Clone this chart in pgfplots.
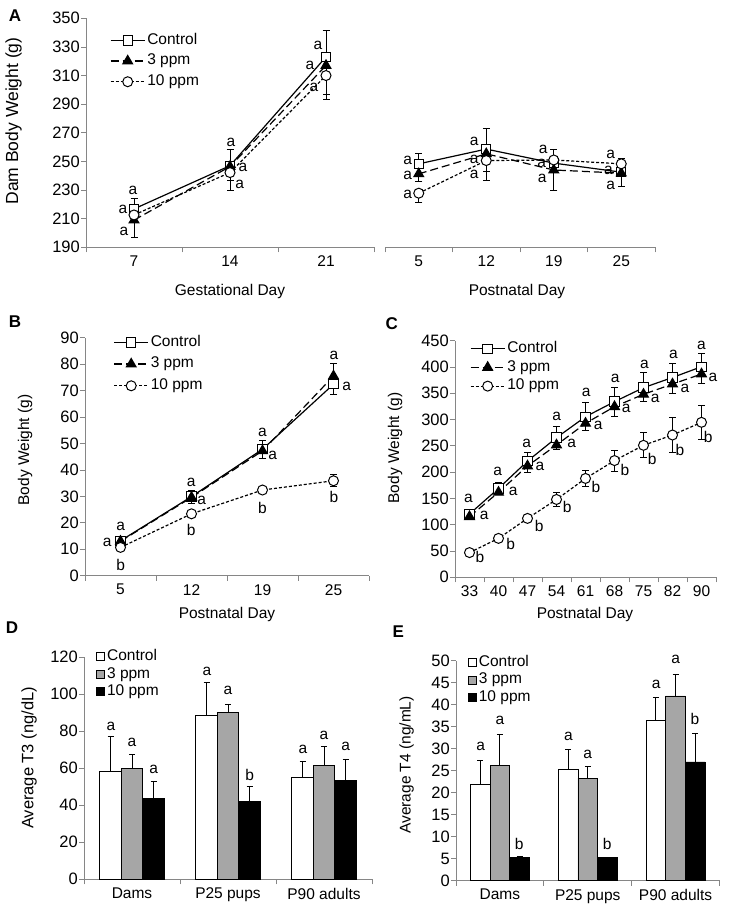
\documentclass[border=0pt]{standalone}
\usepackage{fontspec}
\setmainfont{Liberation Sans}
\usepackage{pgfplots}
\pgfplotsset{compat=1.18}
\definecolor{bargray}{RGB}{166,166,166}
\definecolor{axgray}{RGB}{134,134,134}
\newcommand{\tf}{\fontsize{15.5}{18}\selectfont}
\newcommand{\yf}{\fontsize{16.5}{18}\selectfont}
\newcommand{\lt}[3]{\node[font=\tf, inner sep=0pt] at (axis cs:#1,#2) {#3};}
\pgfplotsset{
  base/.style={
    scale only axis, clip=false,
    axis lines*=left,
    axis line style={draw=axgray, line width=0.8pt},
    tick align=outside,
    major tick length=5pt,
    tick style={draw=axgray, line width=0.8pt},
    tick label style={font=\tf, black},
    yticklabel style={font=\yf, inner sep=1pt},
    /pgf/number format/assume math mode=true,
    x tick label as interval,
  },
  ctrl/.style={black, line width=1.2pt, mark=square*, mark size=4.7pt, mark options={fill=white, solid, line width=1pt}},
  three/.style={black, line width=1.2pt, dash pattern=on 8pt off 4pt, mark=triangle*, mark size=5.5pt, mark options={fill=black, solid}},
  ten/.style={black, line width=1.2pt, dash pattern=on 3pt off 2pt, mark=*, mark size=5pt, mark options={fill=white, solid, line width=1pt}},
  eb/.style={error bars/y dir=both, error bars/y explicit, error bars/error bar style={solid, line width=1pt, black}, error bars/error mark options={rotate=90, mark size=3.5pt, line width=1pt, solid, black}},
  ebp/.style={error bars/y dir=plus, error bars/y explicit, error bars/error bar style={solid, line width=1pt, black}, error bars/error mark options={rotate=90, mark size=3pt, line width=1pt, solid, black}},
  linelegend/.style={legend image code/.code={\draw[mark repeat=2, mark phase=2, ##1] plot coordinates {(0pt,0pt) (17pt,0pt) (34pt,0pt)};},
    legend cell align=left,
    legend style={draw=none, fill=none, font=\tf, anchor=north west, inner sep=0pt, nodes={inner sep=2pt, text height=11pt, text depth=3.5pt}}},
  barlegend/.style={legend image code/.code={\draw[##1, draw=black, line width=0.8pt] (0pt,-4pt) rectangle (8pt,4pt);},
    legend cell align=left,
    legend style={draw=none, fill=none, font=\tf, anchor=north west, inner sep=0pt, row sep=-1pt, nodes={inner sep=2pt, text height=11pt, text depth=3.5pt}}},
  bars/.style={ybar=0pt, ebp},
}
\begin{document}
\begin{tikzpicture}[x=1pt,y=1pt]
\path[use as bounding box] (0,0) rectangle (729,917);

% ---------------- Panel A (gestational) ----------------
\begin{axis}[base, at={(86pt,669.7pt)}, anchor=south west, width=288pt, height=229pt,
  xmin=0.5, xmax=3.5, ymin=190, ymax=350, ytick={190,210,...,350},
  xtick={0.5,1.5,2.5,3.5}, xticklabels={7,14,21},
  linelegend, legend style={at={(axis description cs:0.083,0.945)}, row sep=2.2pt}]
\addplot[ctrl, eb] coordinates {(1,216.8) += (0,7.5) (2,247) += (0,11) (3,323) += (0,18.6)};
\addplot[three, eb] coordinates {(1,209) -= (0,12) (2,246.4) -= (0,9.4) (3,317) -= (0,20.4)};
\addplot[ten, eb] coordinates {(1,212.6) -= (0,2) (2,242.2) -= (0,12.2) (3,310) -= (0,17)};
\legend{Control,3 ppm,10 ppm}
\lt{0.99}{229.4}{a}\lt{0.885}{216.8}{a}\lt{0.896}{201.4}{a}
\lt{2.01}{263}{a}\lt{2.135}{245.6}{a}\lt{2.10}{234}{a}
\lt{2.917}{330.8}{a}\lt{2.833}{316.8}{a}\lt{2.875}{302}{a}
\end{axis}

% ---------------- Panel A (postnatal) ----------------
\begin{axis}[base, axis y line=none, at={(385pt,669.7pt)}, anchor=south west, width=270pt, height=229pt,
  xmin=0.5, xmax=4.5, ymin=190, ymax=350, ytick=\empty,
  xtick={0.5,1.5,2.5,3.5,4.5}, xticklabels={5,12,19,25}]
\addplot[ctrl, eb] coordinates {(1,248.3) += (0,7) (2,258.6) += (0,14.4) (3,248.8) += (0,3) (4,242.5) += (0,3)};
\addplot[three, eb] coordinates {(1,241.3) -= (0,5.3) (2,255.3) -= (0,18.3) (3,244) -= (0,14.4) (4,241.8) -= (0,9.4)};
\addplot[ten, eb] coordinates {(1,227.8) -= (0,6.8) (2,250.6) -= (0,7.6) (3,251) += (0,7.6) (4,248.3) += (0,3.5)};
\lt{0.836}{250.8}{a}\lt{0.836}{240}{a}\lt{0.836}{227}{a}
\lt{1.823}{264}{a}\lt{1.823}{251.5}{a}\lt{1.823}{241}{a}
\lt{2.845}{258.5}{a}\lt{2.82}{248.3}{a}\lt{2.83}{238}{a}
\lt{3.843}{255}{a}\lt{3.81}{244}{a}\lt{3.843}{233.2}{a}
\end{axis}

% ---------------- Panel B ----------------
\begin{axis}[base, at={(85pt,341.3pt)}, anchor=south west, width=284pt, height=238pt,
  xmin=0.5, xmax=4.5, ymin=0, ymax=90, ytick={0,10,...,90},
  xtick={0.5,1.5,2.5,3.5,4.5}, xticklabels={5,12,19,25},
  linelegend, legend style={at={(axis description cs:0.1,1.02)}, row sep=3.2pt}]
\addplot[ctrl, eb] coordinates {(1,13.2) += (0,0.5) (2,29.9) += (0,2.5) (3,47.8) += (0,3.2) (4,72.4) -= (0,3.7)};
\addplot[three, eb] coordinates {(1,13) -= (0,0.5) (2,29.6) -= (0,2.2) (3,47.2) -= (0,2.8) (4,75.5) += (0,4.8)};
\addplot[ten, eb] coordinates {(1,10.7) +- (0,0.5) (2,23.4) +- (0,0.8) (3,32.4) +- (0,1) (4,35.9) +- (0,2.3)};
\legend{Control,3 ppm,10 ppm}
\lt{1.003}{18.8}{a}\lt{0.814}{12.6}{a}\lt{1.003}{4.0}{b}
\lt{1.997}{35.3}{a}\lt{2.143}{28.4}{a}\lt{1.997}{17.3}{b}
\lt{3.0}{54.1}{a}\lt{3.143}{45.6}{a}\lt{3.0}{25.5}{b}
\lt{4.007}{83.4}{a}\lt{4.186}{71.7}{a}\lt{4.007}{29.6}{b}
\end{axis}

% ---------------- Panel C ----------------
\begin{axis}[base, at={(455pt,339.7pt)}, anchor=south west, width=261pt, height=236.6pt,
  xmin=0.5, xmax=9.5, ymin=0, ymax=450, ytick={0,50,...,450},
  xtick={0.5,1.5,...,9.5}, xticklabels={33,40,47,54,61,68,75,82,90},
  linelegend, legend style={at={(axis description cs:0.057,1.006)}, row sep=0.2pt}]
\addplot[ctrl, eb] coordinates {(1,120.4) += (0,5) (2,169) += (0,11) (3,221) += (0,16.6) (4,265.5) += (0,22.2) (5,305.4) += (0,26.6) (6,334) += (0,26.6) (7,360.6) += (0,28.4) (8,380) += (0,27.5) (9,400.5) += (0,25.3)};
\addplot[three, eb] coordinates {(1,115.3) -= (0,3) (2,161.6) -= (0,4) (3,211.7) -= (0,12.7) (4,251.6) -= (0,8.6) (5,292.8) -= (0,12.8) (6,324.5) -= (0,17.8) (7,348) -= (0,14) (8,367.5) -= (0,17.5) (9,386.6) -= (0,17.6)};
\addplot[ten, eb] coordinates {(1,47) +- (0,3) (2,74) +- (0,4) (3,112) +- (0,5) (4,148) +- (0,13) (5,188) +- (0,15) (6,222) +- (0,20) (7,251) +- (0,24) (8,270.6) +- (0,33) (9,294.7) +- (0,32)};
\legend{Control,3 ppm,10 ppm}
\lt{0.96}{150}{a}\lt{1.51}{117.2}{a}\lt{1.36}{38}{b}
\lt{1.97}{202}{a}\lt{2.51}{163}{a}\lt{2.42}{62.7}{b}
\lt{2.97}{254.8}{a}\lt{3.43}{210.4}{a}\lt{3.40}{98.2}{b}
\lt{4.01}{306.7}{a}\lt{4.52}{254.8}{a}\lt{4.37}{134.3}{b}
\lt{5.02}{351}{a}\lt{5.44}{289.6}{a}\lt{5.36}{171}{b}
\lt{6.02}{378}{a}\lt{6.40}{321}{a}\lt{6.36}{204}{b}
\lt{7.03}{405.6}{a}\lt{7.40}{340}{a}\lt{7.30}{226}{b}
\lt{8.03}{424.6}{a}\lt{8.43}{359}{a}\lt{8.26}{243}{b}
\lt{9.0}{441.7}{a}\lt{9.39}{380}{a}\lt{9.23}{267}{b}
\end{axis}

% ---------------- Panel D ----------------
\begin{axis}[base, bars, bar width=21.5pt, at={(84pt,37.7pt)}, anchor=south west, width=288pt, height=222.3pt,
  xmin=0.5, xmax=3.5, ymin=0, ymax=120, ytick={0,20,...,120},
  xtick={0.5,1.5,2.5,3.5}, xticklabels={Dams,P25 pups,P90 adults},
  barlegend, legend style={at={(axis description cs:0.042,1.043)}}]
\addplot[fill=white, draw=black, line width=0.8pt] coordinates {(1,58.1) += (0,19) (2,88.7) += (0,17.5) (3,55) += (0,8.5)};
\addplot[fill=bargray, draw=black, line width=0.8pt] coordinates {(1,60) += (0,7.1) (2,90.1) += (0,4.5) (3,61.4) += (0,10.2)};
\addplot[fill=black, draw=black, line width=0.8pt] coordinates {(1,43.7) += (0,9) (2,41.9) += (0,8.1) (3,53.3) += (0,11.1)};
\legend{Control,3 ppm,10 ppm}
\lt{0.78}{82.8}{a}\lt{1.0}{74}{a}\lt{1.225}{59.4}{a}
\lt{1.78}{112}{a}\lt{2.0}{101.7}{a}\lt{2.225}{56.3}{b}
\lt{2.78}{70.3}{a}\lt{3.0}{77.9}{a}\lt{3.225}{71.6}{a}
\end{axis}

% ---------------- Panel E ----------------
\begin{axis}[base, bars, bar width=19.7pt, at={(456pt,36.3pt)}, anchor=south west, width=263.5pt, height=220pt,
  xmin=0.5, xmax=3.5, ymin=0, ymax=50, ytick={0,5,...,50},
  xtick={0.5,1.5,2.5,3.5}, xticklabels={Dams,P25 pups,P90 adults},
  barlegend, legend style={at={(axis description cs:0.045,1.035)}}]
\addplot[fill=white, draw=black, line width=0.8pt] coordinates {(1,21.9) += (0,5.5) (2,25.2) += (0,4.6) (3,36.5) += (0,5.1)};
\addplot[fill=bargray, draw=black, line width=0.8pt] coordinates {(1,26.1) += (0,7.2) (2,23.3) += (0,2.6) (3,42) += (0,4.9)};
\addplot[fill=black, draw=black, line width=0.8pt] coordinates {(1,5.2) += (0,0.4) (2,5.2) += (0,0) (3,27) += (0,6.5)};
\legend{Control,3 ppm,10 ppm}
\lt{0.78}{30.5}{a}\lt{1.0}{36.5}{a}\lt{1.22}{8.3}{b}
\lt{1.78}{32.7}{a}\lt{2.0}{28.6}{a}\lt{2.22}{8.3}{b}
\lt{2.78}{44.6}{a}\lt{3.0}{50.2}{a}\lt{3.22}{36.7}{b}
\end{axis}

% ---------------- Titles, axis labels ----------------
\node[font=\fontsize{17}{20}\selectfont\bfseries] at (15,901.7) {A};
\node[font=\fontsize{17}{20}\selectfont\bfseries] at (15,595.3) {B};
\node[font=\fontsize{17}{20}\selectfont\bfseries] at (391.7,593.7) {C};
\node[font=\fontsize{17}{20}\selectfont\bfseries] at (12,289) {D};
\node[font=\fontsize{17}{20}\selectfont\bfseries] at (398.3,285.3) {E};
\node[font=\fontsize{17.5}{20}\selectfont, rotate=90] at (13.5,796) {Dam Body Weight (g)};
\node[font=\tf] at (230,625.3) {Gestational Day};
\node[font=\tf] at (517,625.3) {Postnatal Day};
\node[font=\tf, rotate=90] at (25,467) {Body Weight (g)};
\node[font=\tf] at (227,303) {Postnatal Day};
\node[font=\tf, rotate=90] at (395,469) {Body Weight (g)};
\node[font=\tf] at (585,303) {Postnatal Day};
\node[font=\fontsize{16.5}{20}\selectfont, rotate=90] at (29,159) {Average T3 (ng/dL)};
\node[font=\tf, rotate=90] at (406.7,152) {Average T4 (ng/mL)};
\end{tikzpicture}
\end{document}
